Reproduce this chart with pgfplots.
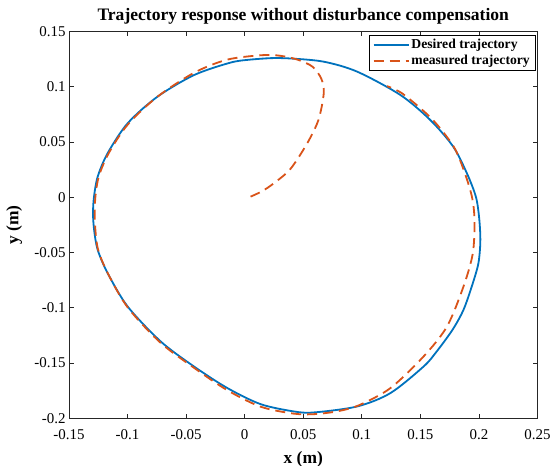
\documentclass[border=0pt]{standalone}
\usepackage{pgfplots}
\pgfplotsset{compat=1.18}
\usepackage{fontspec}
\setmainfont{Liberation Serif}
\definecolor{mblue}{rgb}{0,0.447,0.741}
\definecolor{morange}{rgb}{0.850,0.325,0.098}
\definecolor{axgray}{gray}{0.15}
\begin{document}
\begin{tikzpicture}
\path[use as bounding box] (0,0) rectangle (552bp,466bp);
\begin{axis}[
  at={(69bp,47.7bp)}, anchor=south west,
  scale only axis, width=468.5bp, height=386.9bp,
  xmin=-0.15, xmax=0.25, ymin=-0.2, ymax=0.15,
  xtick={-0.15,-0.1,-0.05,0,0.05,0.1,0.15,0.2,0.25},
  xticklabels={-0.15,-0.1,-0.05,0,0.05,0.1,0.15,0.2,0.25},
  ytick={-0.2,-0.15,-0.1,-0.05,0,0.05,0.1,0.15},
  yticklabels={-0.2,-0.15,-0.1,-0.05,0,0.05,0.1,0.15},
  tick align=inside, major tick length=4.7bp,
  axis line style={axgray, line width=0.75bp},
  tick style={axgray, line width=0.75bp},
  ticklabel style={font=\fontsize{15}{18}\selectfont, text=black},
  xticklabel style={yshift=-7.5bp},
  title={\textbf{Trajectory response without disturbance compensation}},
  title style={font=\fontsize{17.6}{20}\selectfont, at={([yshift=5bp]axis description cs:0.5,1)}, anchor=base},
  xlabel={\textbf{x (m)}},
  xlabel style={font=\fontsize{17.5}{20}\selectfont, at={([yshift=-44.7bp]axis description cs:0.5,0)}, anchor=base},
  ylabel={\textbf{y (m)}},
  ylabel style={font=\fontsize{17.5}{20}\selectfont, at={([xshift=-50.7bp]axis description cs:0,0.5)}, anchor=base},
  legend style={at={([xshift=-2.5bp,yshift=-3.6bp]axis description cs:1,1)}, anchor=north east,
    font=\fontsize{13.7}{16}\selectfont\bfseries, draw=black, line width=0.5bp, row sep=1bp},
  legend cell align=left,
  legend image code/.code={\draw[#1] (0bp,0bp) -- (35bp,0bp);},
]
\addplot[mblue, line width=1.8bp, smooth] coordinates {
(0.005,0.1245) (0.022,0.1258) (0.039,0.1255) (0.0675,0.1226) (0.096,0.1136) (0.1329,0.0925)
(0.1584,0.0699) (0.178,0.0458) (0.1897,0.0217) (0.1975,0.0) (0.2003,-0.02) (0.2012,-0.04)
(0.1995,-0.06) (0.1941,-0.08) (0.1868,-0.1019) (0.1774,-0.12) (0.1636,-0.14) (0.1527,-0.1532)
(0.1244,-0.1772) (0.096,-0.1893) (0.059,-0.1947) (0.042,-0.1938) (0.0136,-0.1872)
(-0.0147,-0.1727) (-0.0432,-0.1532) (-0.0716,-0.1306) (-0.0999,-0.0989) (-0.117,-0.0687)
(-0.1255,-0.0476) (-0.1285,-0.03) (-0.1295,-0.015) (-0.1287,0.0) (-0.1255,0.0186)
(-0.117,0.0398) (-0.0999,0.0669) (-0.0744,0.091) (-0.043,0.1106) (-0.012,0.1218)
(0.005,0.1245) (0.022,0.1258)
};
\addplot[morange, line width=1.8bp, smooth, dash pattern=on 10bp off 6bp] coordinates {
(0.005,0.0005) (0.015,0.0055) (0.025,0.0127) (0.039,0.0255) (0.0534,0.0488)
(0.063,0.07) (0.0675,0.094) (0.0655,0.107) (0.058,0.118) (0.045,0.1245)
(0.03,0.128) (0.015,0.1285) (-0.0147,0.1245) (-0.043,0.1127) (-0.075,0.0905)
(-0.1,0.0655) (-0.116,0.040) (-0.1245,0.019) (-0.1275,0.0) (-0.128,-0.02)
(-0.1255,-0.046) (-0.117,-0.0685) (-0.1,-0.0995) (-0.072,-0.1315) (-0.043,-0.1545)
(-0.015,-0.1745) (0.0136,-0.1895) (0.042,-0.1958) (0.06,-0.1962) (0.08,-0.1935)
(0.098,-0.188) (0.1244,-0.1727) (0.1527,-0.1441) (0.1727,-0.117) (0.1868,-0.0808)
(0.1948,-0.0506) (0.1962,-0.0205) (0.194,0.0005) (0.187,0.0247) (0.178,0.0465)
(0.1595,0.0712) (0.135,0.0935) (0.1215,0.1005)
};
\legend{Desired trajectory, measured trajectory}
\end{axis}
\end{tikzpicture}
\end{document}
